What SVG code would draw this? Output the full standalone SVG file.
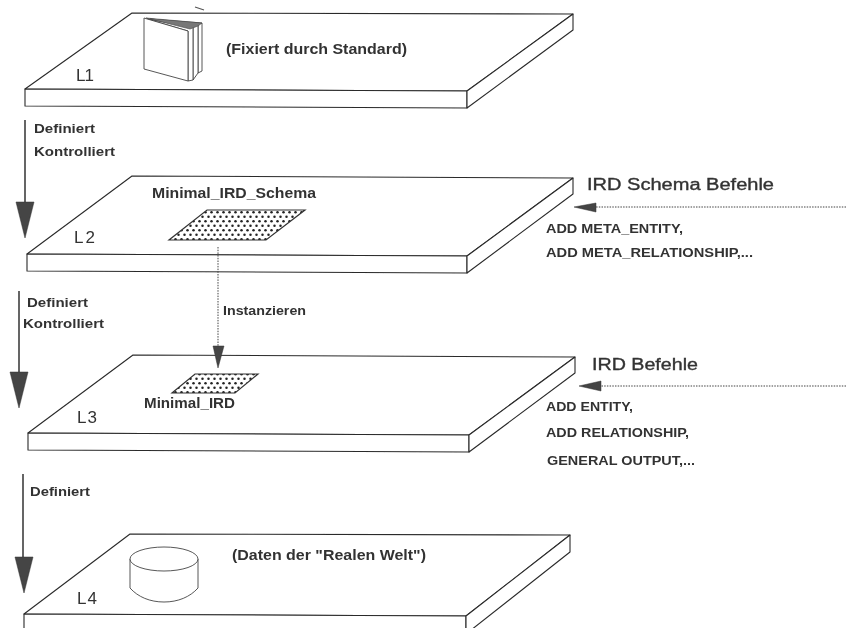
<svg xmlns="http://www.w3.org/2000/svg" width="846" height="628" viewBox="0 0 846 628">
<style>
text{font-family:"Liberation Sans",Arial,sans-serif;font-weight:700;fill:#333;font-size:12px}
.lv{font-weight:400;font-size:17px;fill:#333}
.big{font-size:16px;font-weight:400;stroke:#333;stroke-width:.35px}
.mid{font-size:14px}
.cmd{font-size:12px}
.plate{fill:#fff;stroke:#2a2a2a;stroke-width:1.1;stroke-linejoin:round}
.thin{fill:#fff;stroke:#444;stroke-width:.9;stroke-linejoin:round}
.hatch{fill:url(#dots);stroke:#333;stroke-width:1.2}
.shaft{fill:none;stroke:#333;stroke-width:1.5}
.dot{fill:none;stroke:#444;stroke-width:1;stroke-dasharray:1.5 1.2}
.head{fill:#444;stroke:#333;stroke-width:.5}
</style>
<defs>
<pattern id="dots" width="6" height="9" patternUnits="userSpaceOnUse" patternTransform="translate(0 210)">
<rect width="6" height="9" fill="#fff"/>
<circle cx="1.5" cy="2.2" r="1.25" fill="#222"/>
<circle cx="4.5" cy="6.7" r="1.25" fill="#222"/>
</pattern>
<filter id="soft" x="-2%" y="-2%" width="104%" height="104%"><feGaussianBlur stdDeviation="0.35"/></filter>
</defs>
<rect width="846" height="628" fill="#fff"/>
<g filter="url(#soft)">
<path d="M195 7L204 10" fill="none" stroke="#555" stroke-width="1.2"/>
<g id="L1">
<path class="plate" d="M132 13L573 14L467 91L25 89Z"/>
<path class="plate" d="M25 89L467 91L467 108L25 106Z"/>
<path class="plate" d="M467 91L573 14L573 30L467 108Z"/>
<g id="book">
<path class="thin" d="M150 19L202 23L202 71L198 73L198 24Z"/>
<path class="thin" d="M150 19L198 24L198 73L193 80L193 27Z"/>
<path class="thin" d="M147 19L193 27L193 80L188 81L188 31Z"/>
<path d="M146 18L202 23L198 26L190 29Z" fill="#777" stroke="#444" stroke-width=".6"/>
<path class="thin" d="M144 18L188 31L188 81L144 69Z"/>
</g>
<text class="lv" x="76" y="81" textLength="18">L1</text>
<text class="mid" x="226" y="54" textLength="181" lengthAdjust="spacingAndGlyphs">(Fixiert durch Standard)</text>
</g>
<g id="L2">
<path class="plate" d="M132 176L573 178L467 256L27 254Z"/>
<path class="plate" d="M27 254L467 256L467 273L27 271Z"/>
<path class="plate" d="M467 256L573 178L573 194L467 273Z"/>
<path class="hatch" d="M207 210L305 210L266 240L169 240Z"/>
<text class="lv" x="74" y="243" textLength="21">L2</text>
<text class="mid" x="152" y="198" textLength="164" lengthAdjust="spacingAndGlyphs">Minimal_IRD_Schema</text>
</g>
<g id="L3">
<path class="plate" d="M133 355L575 357L469 435L28 433Z"/>
<path class="plate" d="M28 433L469 435L469 452L28 450Z"/>
<path class="plate" d="M469 435L575 357L575 373L469 452Z"/>
<path class="hatch" d="M195 374L258 374L235 393L172 393Z"/>
<text class="lv" x="77" y="423" textLength="20">L3</text>
<text class="mid" x="144" y="408" textLength="91" lengthAdjust="spacingAndGlyphs">Minimal_IRD</text>
</g>
<g id="L4">
<path class="plate" d="M130 534L570 535L466 616L24 614Z"/>
<path class="plate" d="M24 614L466 616L466 634L24 634Z"/>
<path class="plate" d="M466 616L570 535L570 552L466 634Z"/>
<g id="cylinder">
<path class="thin" d="M130 559V588C138 597 150 602 164 602C178 602 190 597 198 588V559"/>
<ellipse class="thin" cx="164" cy="559" rx="34" ry="12"/>
</g>
<text class="lv" x="77" y="604" textLength="20">L4</text>
<text class="mid" x="232" y="560" textLength="194" lengthAdjust="spacingAndGlyphs">(Daten der "Realen Welt")</text>
</g>
<g id="connectors">
<path class="shaft" d="M25 120V205"/>
<path class="head" d="M16 202H34L25 238Z"/>
<path class="shaft" d="M19 291V375"/>
<path class="head" d="M10 372H28L19 408Z"/>
<path class="shaft" d="M23 474V560"/>
<path class="head" d="M15 557H33L24 593Z"/>
<path class="dot" d="M218 247V348"/>
<path class="head" d="M213 346H224L218 368Z"/>
<path class="dot" d="M846 207H594"/>
<path class="head" d="M596 203V212L574 207Z"/>
<path class="dot" d="M846 386H599"/>
<path class="head" d="M601 381V391L579 386Z"/>
</g>
<g id="labels">
<text x="34" y="133" textLength="61" lengthAdjust="spacingAndGlyphs">Definiert</text>
<text x="34" y="156" textLength="81" lengthAdjust="spacingAndGlyphs">Kontrolliert</text>
<text x="27" y="307" textLength="61" lengthAdjust="spacingAndGlyphs">Definiert</text>
<text x="23" y="328" textLength="81" lengthAdjust="spacingAndGlyphs">Kontrolliert</text>
<text x="30" y="496" textLength="60" lengthAdjust="spacingAndGlyphs">Definiert</text>
<text x="223" y="315" textLength="83" lengthAdjust="spacingAndGlyphs">Instanzieren</text>
<text class="big" x="587" y="190" textLength="187" lengthAdjust="spacingAndGlyphs">IRD Schema Befehle</text>
<text class="big" x="592" y="370" textLength="106" lengthAdjust="spacingAndGlyphs">IRD Befehle</text>
<text class="cmd" x="546" y="233" textLength="137" lengthAdjust="spacingAndGlyphs">ADD META_ENTITY,</text>
<text class="cmd" x="546" y="257" textLength="207" lengthAdjust="spacingAndGlyphs">ADD META_RELATIONSHIP,...</text>
<text class="cmd" x="546" y="411" textLength="87" lengthAdjust="spacingAndGlyphs">ADD ENTITY,</text>
<text class="cmd" x="546" y="437" textLength="143" lengthAdjust="spacingAndGlyphs">ADD RELATIONSHIP,</text>
<text class="cmd" x="547" y="465" textLength="148" lengthAdjust="spacingAndGlyphs">GENERAL OUTPUT,...</text>
</g>
</g>
</svg>
